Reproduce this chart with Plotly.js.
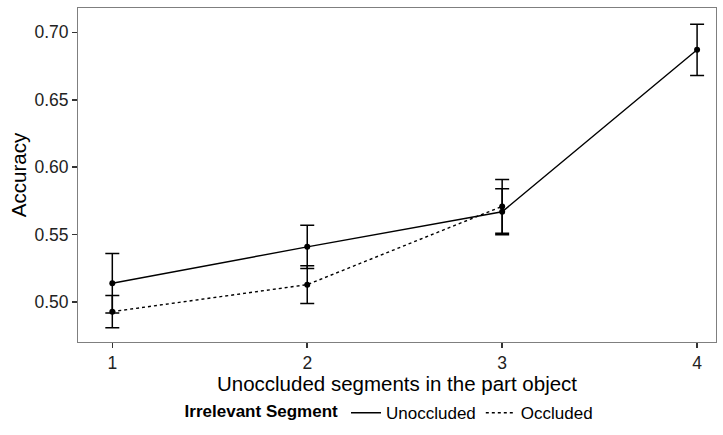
<!DOCTYPE html>
<html>
<head>
<meta charset="utf-8">
<script src="https://cdn.plot.ly/plotly-3.0.1.min.js"></script>
<style>html,body{margin:0;padding:0;background:#fff}#chart{width:723px;height:435px}</style>
</head>
<body>
<div id="chart"></div>
<script>
const segments = [1, 2, 3, 4];
const unoccludedAcc = [0.514, 0.541, 0.567, 0.687];
const unoccludedErr = [0.022, 0.016, 0.017, 0.019];
const occludedX = [1, 2, 3];
const occludedAcc = [0.493, 0.513, 0.571];
const occludedErr = [0.012, 0.014, 0.020];
const yTicks = [0.50, 0.55, 0.60, 0.65, 0.70];
const yTickText = ["0.50", "0.55", "0.60", "0.65", "0.70"];

const font = "Liberation Sans, Arial, Helvetica, sans-serif";

const traces = [
  {
    x: segments, y: unoccludedAcc, name: "Unoccluded", type: "scatter", mode: "lines+markers",
    showlegend: false,
    line: {color: "#000", width: 1.4, dash: "solid"},
    marker: {color: "#000", size: 6},
    error_y: {type: "data", array: unoccludedErr, visible: true, color: "#000", thickness: 1.5, width: 7}
  },
  {
    x: occludedX, y: occludedAcc, name: "Occluded", type: "scatter", mode: "lines+markers",
    showlegend: false,
    line: {color: "#000", width: 1.4, dash: "dot"},
    marker: {color: "#000", size: 6},
    error_y: {type: "data", array: occludedErr, visible: true, color: "#000", thickness: 1.5, width: 7}
  },
  {x: [null], y: [null], name: "Unoccluded", type: "scatter", mode: "lines",
   line: {color: "#000", width: 1.4, dash: "solid"}},
  {x: [null], y: [null], name: "Occluded", type: "scatter", mode: "lines",
   line: {color: "#000", width: 1.4, dash: "dot"}}
];

const layout = {
  width: 723, height: 435,
  margin: {l: 78, r: 7, t: 8, b: 93},
  paper_bgcolor: "#fff", plot_bgcolor: "#fff",
  font: {family: font, color: "#000", size: 16},
  showlegend: true,
  xaxis: {
    range: [0.824, 4.097], tickvals: segments, ticktext: segments.map(String),
    showgrid: false, zeroline: false, showline: true, mirror: true,
    linecolor: "#7f7f7f", linewidth: 1, automargin: false,
    ticks: "outside", ticklen: 5, tickcolor: "#333", tickwidth: 1.5,
    tickfont: {family: font, size: 17.5, color: "#222"},
    title: {text: "Unoccluded segments in the part object", font: {family: font, size: 20.5, color: "#000"}, standoff: 4}
  },
  yaxis: {
    range: [0.4705, 0.718], tickvals: yTicks, ticktext: yTickText,
    showgrid: false, zeroline: false, showline: true, mirror: true,
    linecolor: "#7f7f7f", linewidth: 1, automargin: false,
    ticks: "outside", ticklen: 5, tickcolor: "#333", tickwidth: 1.5,
    tickfont: {family: font, size: 17.5, color: "#222"},
    title: {text: "Accuracy", font: {family: font, size: 20.5, color: "#000"}, standoff: 2}
  },
  legend: {
    orientation: "h", x: 0.49, xanchor: "center", yref: "container", y: 0.05, yanchor: "middle",
    font: {family: font, size: 17, color: "#000"},
    title: {text: "<b>Irrelevant Segment</b>", side: "left", font: {family: font, size: 17, color: "#000"}},
    tracegroupgap: 0, itemclick: false
  }
};

Plotly.newPlot("chart", traces, layout, {displayModeBar: false, staticPlot: true});
</script>
</body>
</html>
